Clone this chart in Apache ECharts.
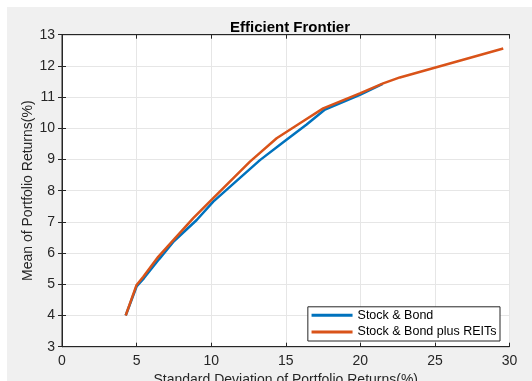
<!DOCTYPE html>
<html>
<head>
<meta charset="utf-8">
<script src="https://cdn.jsdelivr.net/npm/echarts@6/dist/echarts.min.js"></script>
<style>
  html, body { margin: 0; padding: 0; background: #fff; }
  #chart { width: 532px; height: 381px; }
</style>
</head>
<body>
<div id="chart"></div>
<script>
// std dev (%) and mean (%)
var bondX = [4.27, 5.0, 5.5, 6.5, 7.5, 9.03, 10.14, 13.27, 14.83, 16.4, 17.63, 19.97, 21.5];
var bondY = [4.0, 4.93, 5.2, 5.8, 6.38, 7.06, 7.65, 8.98, 9.55, 10.12, 10.6, 11.07, 11.42];
var reitX = [4.27, 5.0, 5.45, 6.45, 7.57, 8.8, 10.14, 12.6, 14.39, 15.95, 17.51, 19.97, 21.53, 22.65, 29.58];
var reitY = [4.0, 4.98, 5.24, 5.88, 6.47, 7.12, 7.76, 8.93, 9.68, 10.16, 10.64, 11.12, 11.44, 11.63, 12.56];
var names = ['Stock & Bond', 'Stock & Bond plus REITs'];

function pairs(xs, ys) {
    var out = [];
    for (var i = 0; i < xs.length; i++) {
        out.push([xs[i], ys[i]]);
    }
    return out;
}

var axisColor = '#262626';
var font = 'Liberation Sans, Arial, sans-serif';

var myChart = echarts.init(document.getElementById('chart'));
var option = {
    animation: false,
    graphic: [{
        type: 'rect', z: -10, silent: true,
        shape: { x: 7, y: 7, width: 525, height: 374 },
        style: { fill: '#f0f0f0' }
    }],
    title: {
        text: 'Efficient Frontier',
        left: 285, top: 15, textAlign: 'center',
        textStyle: { fontSize: 15, fontWeight: 'bold', color: '#000', fontFamily: font }
    },
    legend: {
        data: names,
        orient: 'vertical',
        right: 32, bottom: 40,
        itemWidth: 41, itemHeight: 3, itemGap: 2.7,
        padding: [1.5, 3.5, 2, 3.7],
        backgroundColor: '#fff',
        borderColor: axisColor, borderWidth: 1, borderRadius: 0,
        icon: 'rect',
        textStyle: { fontSize: 12.5, lineHeight: 14, color: '#000', fontFamily: font }
    },
    grid: {
        left: 62, right: 22.5, top: 34.7, bottom: 34.3,
        outerBoundsMode: 'none',
        show: true, backgroundColor: '#fff', borderColor: axisColor, borderWidth: 1
    },
    xAxis: [{
        type: 'value', min: 0, max: 30, interval: 5,
        name: 'Standard Deviation of Portfolio Returns(%)',
        nameLocation: 'middle', nameGap: 26, nameMoveOverlap: false,
        nameTextStyle: { fontSize: 14, color: axisColor, fontFamily: font },
        axisLine: { lineStyle: { color: axisColor } },
        axisTick: { inside: true, length: 4, lineStyle: { color: axisColor } },
        axisLabel: { fontSize: 14, color: axisColor, margin: 7, fontFamily: font },
        splitLine: { lineStyle: { color: '#e6e6e6' } }
    }, {
        type: 'value', min: 0, max: 30, interval: 5, position: 'top',
        axisLine: { lineStyle: { color: axisColor } },
        axisTick: { inside: true, length: 4, lineStyle: { color: axisColor } },
        axisLabel: { show: false },
        splitLine: { show: false }
    }],
    yAxis: [{
        type: 'value', min: 3, max: 13, interval: 1,
        name: 'Mean of Portfolio Returns(%)',
        nameLocation: 'middle', nameGap: 27, nameMoveOverlap: false,
        nameTextStyle: { fontSize: 14, color: axisColor, fontFamily: font },
        axisLine: { show: true, lineStyle: { color: axisColor } },
        axisTick: { show: true, inside: true, length: 4, lineStyle: { color: axisColor } },
        axisLabel: { fontSize: 14, color: axisColor, margin: 7, fontFamily: font },
        splitLine: { lineStyle: { color: '#e6e6e6' } }
    }, {
        type: 'value', min: 3, max: 13, interval: 1, position: 'right',
        axisLine: { show: true, lineStyle: { color: axisColor } },
        axisTick: { show: true, inside: true, length: 4, lineStyle: { color: axisColor } },
        axisLabel: { show: false },
        splitLine: { show: false }
    }],
    series: [{
        name: names[0],
        type: 'line',
        data: pairs(bondX, bondY),
        showSymbol: false,
        color: '#0072BD',
        lineStyle: { width: 2.5, color: '#0072BD' }
    }, {
        name: names[1],
        type: 'line',
        data: pairs(reitX, reitY),
        showSymbol: false,
        color: '#D95319',
        lineStyle: { width: 2.5, color: '#D95319' }
    }]
};
myChart.setOption(option);
</script>
</body>
</html>
